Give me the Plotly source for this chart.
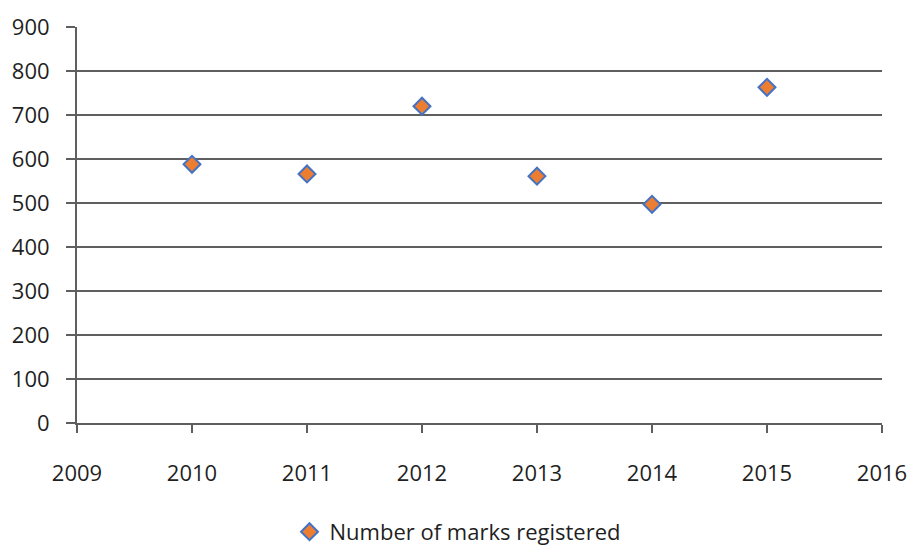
import plotly.graph_objects as go

# Registered trademarks per year
years = [2010, 2011, 2012, 2013, 2014, 2015]
marks_registered = [588, 566, 720, 561, 497, 763]

y_ticks = [0, 100, 200, 300, 400, 500, 600, 700, 800, 900]
x_ticks = [2009, 2010, 2011, 2012, 2013, 2014, 2015, 2016]

axis_color = "#5f5f5f"
text_color = "#1f1f1f"
font_family = "Open Sans, Lato, sans-serif"

fig = go.Figure()
fig.add_trace(go.Scatter(
    x=years,
    y=marks_registered,
    mode="markers",
    name="Number of marks registered",
    marker=dict(symbol="diamond", size=13, color="#ED7D31",
                line=dict(color="#4472C4", width=2)),
))

fig.update_layout(
    width=915, height=545,
    margin=dict(l=77, r=33, t=27, b=122, autoexpand=False),
    paper_bgcolor="white",
    plot_bgcolor="white",
    font=dict(family=font_family, size=22, color=text_color),
    showlegend=True,
    legend=dict(orientation="h", x=0.5, xanchor="center", xref="container",
                y=0.024, yanchor="middle", yref="container",
                font=dict(size=22, color=text_color), itemwidth=30),
    xaxis=dict(
        range=[2009, 2016], tickvals=x_ticks, ticktext=[str(v) for v in x_ticks],
        showgrid=False, zeroline=False,
        showline=True, linecolor=axis_color, linewidth=2,
        ticks="outside", ticklen=8, tickwidth=2, tickcolor=axis_color,
        ticklabelstandoff=22,
    ),
    yaxis=dict(
        range=[0, 900], tickvals=y_ticks,
        showgrid=True, gridcolor=axis_color, gridwidth=2,
        zeroline=False, showline=True, linecolor=axis_color, linewidth=2,
        ticks="outside", ticklen=9, tickwidth=2, tickcolor=axis_color,
        ticklabelstandoff=12,
    ),
)

fig.write_html("out.html")
